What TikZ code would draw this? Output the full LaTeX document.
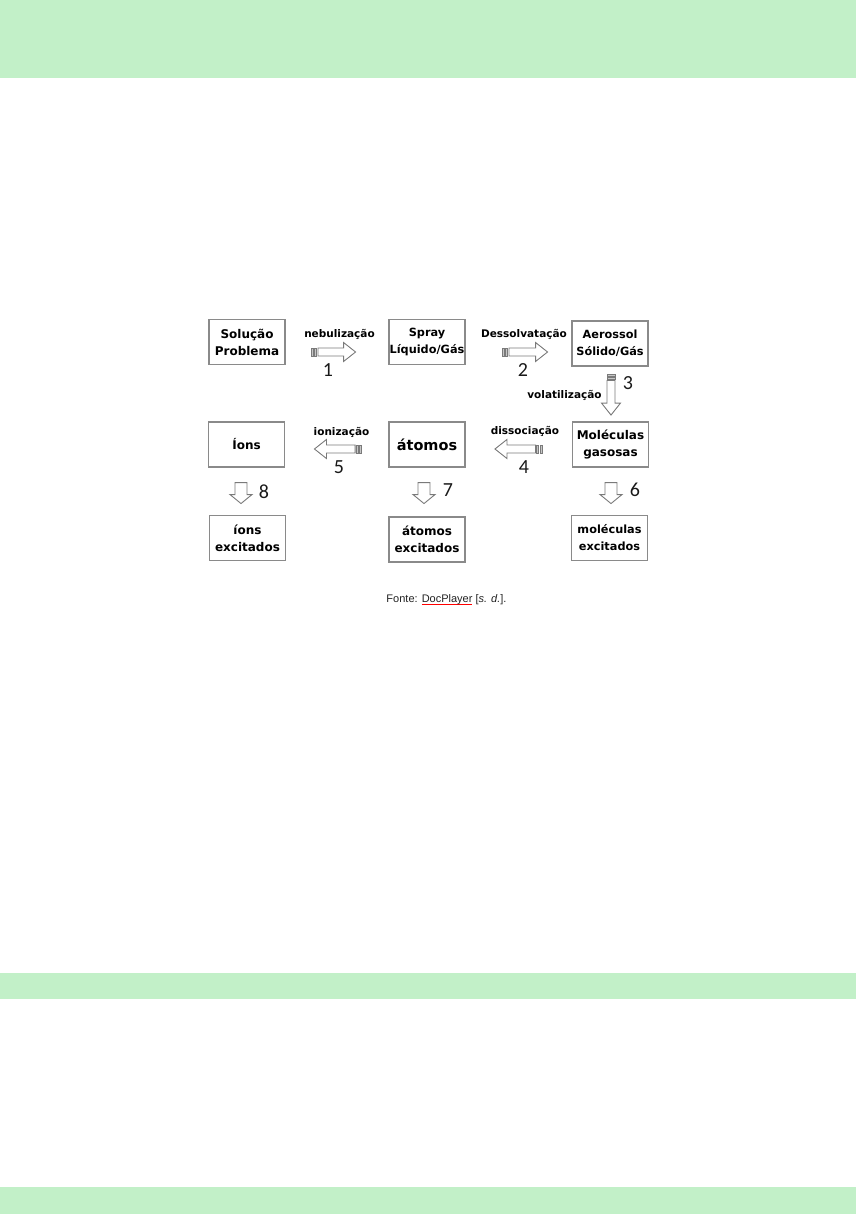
\documentclass[tikz,border=0pt]{standalone}
\usepackage{fontspec}
\setmainfont{Liberation Sans}
\newfontfamily\boxfont{DejaVu Sans}
\newfontfamily\numfont{Carlito}
\usetikzlibrary{calc}
\definecolor{band}{HTML}{C2F0C8}
\definecolor{boxgray}{HTML}{8A8A8A}
\definecolor{arrgray}{HTML}{7A7A7A}
\definecolor{capgray}{HTML}{222222}
\newcommand{\redul}[1]{{\setbox0\hbox{#1}\rlap{\color{red}\rule[-2.2pt]{\wd0}{0.8pt}}\box0}}
\begin{document}
\begin{tikzpicture}[x=1pt,y=-1pt,
  stepbox/.style={draw=boxgray, line width=1.1pt, fill=white, minimum width=76pt, minimum height=45pt, align=center, inner sep=1pt, font=\boxfont\bfseries\fontsize{12}{17}\selectfont},
  narrowbox/.style={stepbox, font=\boxfont\bfseries\fontsize{11.3}{17}\selectfont, inner sep=0.5pt},
  proclabel/.style={font=\boxfont\bfseries\fontsize{10.5}{12}\selectfont, inner sep=0pt},
  numlabel/.style={font=\numfont\fontsize{20}{22}\selectfont, text=black!90, inner sep=0pt},
  arrowline/.style={draw=arrgray, line width=0.9pt, fill=white, line join=miter},
  pics/blockarrow/.style={code={
    \filldraw[arrowline, fill=gray!45] (0,-4) rectangle (2,4);
    \filldraw[arrowline, fill=gray!45] (3.2,-4) rectangle (5.2,4);
    \filldraw[arrowline] (6.4,-4) -- (#1-12,-4) -- (#1-12,-9.5) -- (#1,0) -- (#1-12,9.5) -- (#1-12,4) -- (6.4,4) -- cycle;
  }},
  pics/smalldown/.style={code={
    \filldraw[arrowline] (-6,0) -- (6,0) -- (6,12) -- (11,12) -- (0,21) -- (-11,12) -- (-6,12) -- cycle;
  }}
]
\useasboundingbox (0,0) rectangle (856,1214);
\fill[band] (0,0) rectangle (856,78);
\fill[band] (0,973) rectangle (856,999);
\fill[band] (0,1187) rectangle (856,1214);

% boxes
\node[stepbox] (sol)   at (247,342)   {Solução\\Problema};
\node[narrowbox] (spray) at (427,342)   {Spray\\Líquido/Gás};
\node[narrowbox] (aer)   at (610,343.5) {Aerossol\\Sólido/Gás};
\node[stepbox] (ions)  at (246.5,444.5) {Íons};
\node[stepbox, font=\boxfont\bfseries\fontsize{14.5}{16}\selectfont] (atom) at (427,444.5) {átomos};
\node[stepbox] (mol)   at (610.5,444.5) {Moléculas\\gasosas};
\node[stepbox] (ionsx) at (247.5,538) {íons\\excitados};
\node[stepbox] (atomx) at (427,539.5) {átomos\\excitados};
\node[narrowbox] (molx)  at (609.5,538) {moléculas\\excitados};

% process arrows
\coordinate (a1) at ($(sol.east)+(26,10)$);
\coordinate (a2) at ($(spray.east)+(37,10)$);
\coordinate (a3) at ($(aer.south)+(1,7.5)$);
\coordinate (a4) at ($(mol.west)+(-30,4.5)$);
\coordinate (a5) at ($(atom.west)+(-27,4.5)$);
\pic at (a1) {blockarrow=44};
\pic at (a2) {blockarrow=45};
\pic[rotate=-90] at (a3) {blockarrow=41};
\pic[rotate=180] at (a4) {blockarrow=47};
\pic[rotate=180] at (a5) {blockarrow=47};

\node[proclabel] (l1) at (339.5,334) {nebulização};
\node[proclabel] (l2) at (524,334) {Dessolvatação};
\node[proclabel] (l3) at (564.5,395) {volatilização};
\node[proclabel] (l5) at (341.5,432) {ionização};
\node[proclabel] (l4) at (525,431) {dissociação};

\node[numlabel] (n1) at (328,370) {1};
\node[numlabel] (n2) at (523,370) {2};
\node[numlabel] (n3) at (628,383) {3};
\node[numlabel] (n5) at (339,467) {5};
\node[numlabel] (n4) at (524,467) {4};

% excitation arrows
\coordinate (d8) at ($(ions.south)+(-5.5,15)$);
\coordinate (d7) at ($(atom.south)+(-3,15)$);
\coordinate (d6) at ($(mol.south)+(0.5,15)$);
\pic at (d8) {smalldown};
\pic at (d7) {smalldown};
\pic at (d6) {smalldown};
\node[numlabel] (n8) at (264,492) {8};
\node[numlabel] (n7) at (448,490) {7};
\node[numlabel] (n6) at (635,490) {6};

\node[font=\fontsize{11}{13}\selectfont, text=capgray, inner sep=0pt] (cap) at (446.5,600)
  {Fonte: \redul{DocPlayer} [\textit{s. d.}].};
\end{tikzpicture}
\end{document}
